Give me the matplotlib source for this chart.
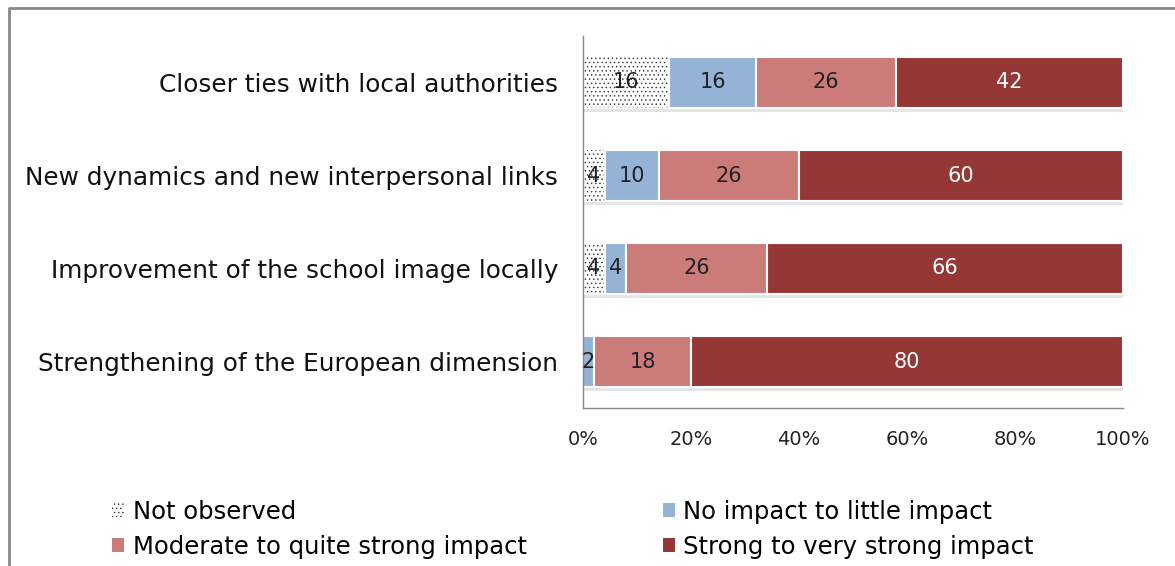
import matplotlib
matplotlib.use("Agg")
import matplotlib.pyplot as plt
import matplotlib.patheffects as pe
from matplotlib.lines import Line2D
from matplotlib.patches import Patch
import numpy as np

plt.rcParams['font.family'] = ['DejaVu Sans']
plt.rcParams['hatch.linewidth'] = 0.5

categories = ["Closer ties with local authorities",
              "New dynamics and new interpersonal links",
              "Improvement of the school image locally",
              "Strengthening of the European dimension"]
series = ["Not observed", "No impact to little impact",
          "Moderate to quite strong impact", "Strong to very strong impact"]
not_observed = [16, 4, 4, 0]
no_impact = [16, 10, 4, 2]
moderate = [26, 26, 26, 18]
strong = [42, 60, 66, 80]
xticks = [0, 20, 40, 60, 80, 100]
xtick_labels = ["0%", "20%", "40%", "60%", "80%", "100%"]

W, H = 1175, 566
fig = plt.figure(figsize=(W / 100, H / 100), dpi=100)
ax = fig.add_axes([583 / W, 1 - 408 / H, 540 / W, 372 / H])

data = [not_observed, no_impact, moderate, strong]
colors = ["white", "#95B3D7", "#CC7B7B", "#953735"]
hatches = ["....", None, None, None]
txtcol = ["#222222", "#222222", "#222222", "white"]
y = np.arange(len(categories))
left = np.zeros(len(categories))
shadow = [pe.SimplePatchShadow(offset=(0, -3), shadow_rgbFace="#aaaaaa", alpha=0.3), pe.Normal()]
for vals, c, h, tc in zip(data, colors, hatches, txtcol):
    vals = np.array(vals, dtype=float)
    bars = ax.barh(y, vals, left=left, height=0.54, color=c,
                   edgecolor="white", linewidth=1.5, path_effects=shadow)
    if h:
        for b, v in zip(bars, vals):
            if v > 0:
                ax.barh(b.get_y() + b.get_height() / 2, v, left=b.get_x(), height=0.54,
                        color="none", hatch=h, edgecolor="#333333", linewidth=0)
    for yi, l, v in zip(y, left, vals):
        if v > 0:
            ax.text(l + v / 2, yi, f"{int(v)}", ha="center", va="center",
                    fontsize=15, color=tc)
    left += vals

ax.set_xlim(0, 100)
ax.set_ylim(len(categories) - 0.5, -0.5)
ax.set_yticks(y)
ax.set_yticklabels(categories, fontsize=17.8, color="#111111")
ax.set_xticks(xticks)
ax.set_xticklabels(xtick_labels, fontsize=14, color="#222222")
ax.tick_params(axis="both", length=0)
ax.tick_params(axis="y", pad=18)
ax.tick_params(axis="x", pad=16)
for s in ["top", "right"]:
    ax.spines[s].set_visible(False)
for s in ["left", "bottom"]:
    ax.spines[s].set_color("#888888")
    ax.spines[s].set_linewidth(1)

handles = [Patch(facecolor="white", edgecolor="#333333", hatch="....", linewidth=0)] + \
          [Patch(facecolor=c, edgecolor="none") for c in colors[1:]]
order = [0, 2, 1, 3]
fig.legend([handles[i] for i in order], [series[i] for i in order],
           loc="upper left", bbox_to_anchor=(90 / W, 1 - 478 / H),
           ncol=2, frameon=False, fontsize=17.5, handlelength=0.5, handleheight=0.5,
           handletextpad=0.35, columnspacing=5.6, labelspacing=0.45)

fig.add_artist(Line2D([9 / W, 9 / W, 1], [0, 1 - 8 / H, 1 - 8 / H],
                      transform=fig.transFigure, color="#888888", linewidth=2))

fig.savefig("out.png", dpi=100)
